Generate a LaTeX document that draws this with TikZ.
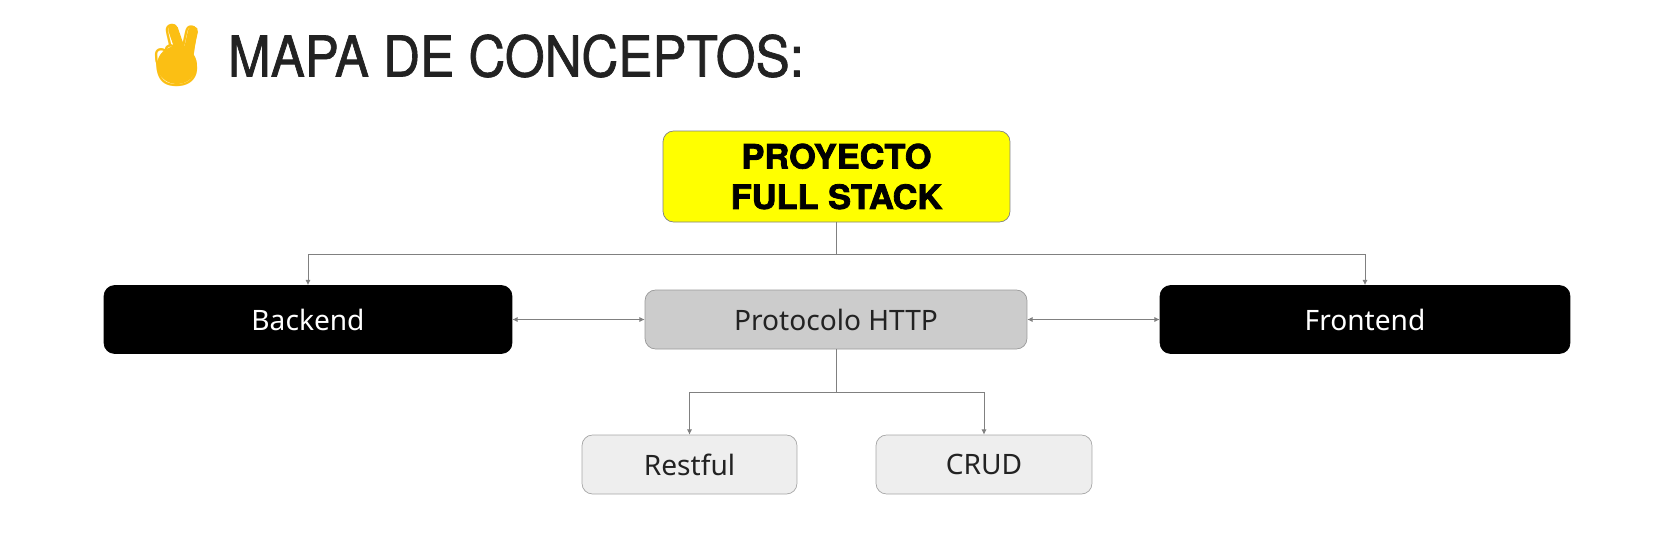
\documentclass[tikz,border=0pt]{standalone}
\usepackage{fontspec}
\usepackage{xcolor}
\usetikzlibrary{arrows.meta}
\setmainfont{Noto Sans}
\newfontfamily\titlefont[FakeStretch=0.91,FakeBold=1.2]{TeX Gyre Heros}
\newfontfamily\topfont[FakeBold=2.4,FakeStretch=1.03]{TeX Gyre Heros}
\newfontfamily\emojifont{Noto Emoji}
\definecolor{inkdark}{HTML}{222222}
\definecolor{handyellow}{HTML}{FBBF14}
\definecolor{topyellow}{HTML}{FFFF00}
\definecolor{httpgray}{HTML}{CCCCCC}
\definecolor{leafgray}{HTML}{EEEEEE}
\definecolor{linegray}{HTML}{808080}
\tikzset{
    box/.style={rectangle,rounded corners=6pt,draw=#1,align=center,font=\fontsize{16}{19}\selectfont},
    plainlink/.style={draw=linegray,line width=0.55pt},
    link/.style={plainlink,-{Latex[length=3pt,width=3pt]}},
    twolink/.style={plainlink,{Latex[length=3pt,width=3pt]}-{Latex[length=3pt,width=3pt]}}
}

\begin{document}
\begin{tikzpicture}[x=0.02cm,y=-0.02cm]
            \useasboundingbox (0,0) rectangle (1680,532);

            % hand
            \fill[handyellow] (177,65) ellipse (20 and 19);
            \draw[handyellow,line width=0.2cm,line cap=round] (173,29) -- (183,58) (193,31) -- (187,58);
            \node (hand) at (177,55) [text=handyellow,font=\emojifont\fontsize{35}{35}\selectfont] {✌};
            \node (title) at (516,56) [text=inkdark,font=\titlefont\fontsize{32}{36}\selectfont] {MAPA DE CONCEPTOS:};

            \node (top) at (836.5,176.5) [box=gray,fill=topyellow,minimum width=6.94cm,minimum height=1.82cm,
                font=\topfont\bfseries\fontsize{19}{23}\selectfont] {PROYECTO\\FULL STACK};
            \node (backend) at (308,319.5) [box=black,fill=black,text=white,minimum width=8.16cm,minimum height=1.36cm] {Backend};
            \node (http) at (836,319.5) [box=gray!80,fill=httpgray,text=inkdark,minimum width=7.64cm,minimum height=1.18cm] {Protocolo HTTP};
            \node (frontend) at (1365,319.5) [box=black,fill=black,text=white,minimum width=8.2cm,minimum height=1.36cm] {Frontend};
            \node (restful) at (689.5,464.5) [box=gray!70,fill=leafgray,text=inkdark,minimum width=4.3cm,minimum height=1.18cm] {Restful};
            \node (crud) at (984,464.5) [box=gray!70,fill=leafgray,text=inkdark,minimum width=4.32cm,minimum height=1.18cm] {CRUD};

            \coordinate (topjoin) at (836.5,254);
            \coordinate (httpjoin) at (836,392);

            \draw[plainlink] (top) -- (topjoin);
            \draw[link] (topjoin) -| (backend);
            \draw[link] (topjoin) -| (frontend);
            \draw[twolink] (http) -- (backend);
            \draw[twolink] (http) -- (frontend);
            \draw[plainlink] (http) -- (httpjoin);
            \draw[link] (httpjoin) -| (restful);
            \draw[link] (httpjoin) -| (crud);
        \end{tikzpicture}
\end{document}
